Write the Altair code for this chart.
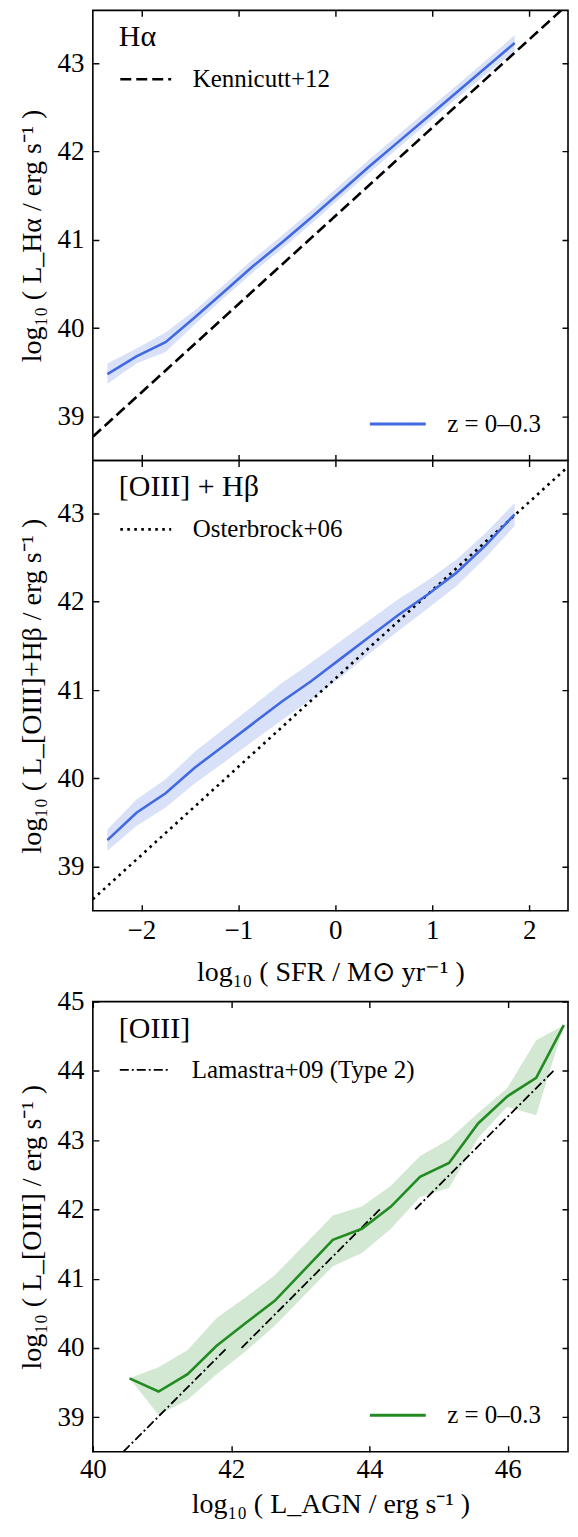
import altair as alt
import pandas as pd

FONT = "Liberation Serif"
BLUE = "#4169E1"
GREEN = "#228B22"
W, H = 476, 451
GAP = 91

# ---------------- data ----------------
# Panel 1: H-alpha vs SFR
sfr_x = [-2.35, -2.05, -1.75, -1.45, -1.15, -0.85, -0.55, -0.25, 0.05, 0.35, 0.65, 0.95, 1.25, 1.55, 1.85]
ha_y = [39.48, 39.68, 39.84, 40.12, 40.41, 40.70, 40.97, 41.25, 41.54, 41.83, 42.11, 42.39, 42.67, 42.95, 43.23]
ha_lo = [39.37, 39.60, 39.73, 40.04, 40.34, 40.63, 40.90, 41.18, 41.47, 41.76, 42.04, 42.32, 42.60, 42.87, 43.14]
ha_hi = [39.60, 39.77, 39.95, 40.20, 40.49, 40.78, 41.05, 41.33, 41.62, 41.91, 42.19, 42.47, 42.75, 43.03, 43.32]
ken_x = [-2.5, 2.33]
ken_y = [38.77, 43.60]

# Panel 2: [OIII]+H-beta vs SFR
oh_y = [39.30, 39.61, 39.83, 40.12, 40.37, 40.62, 40.87, 41.10, 41.35, 41.60, 41.85, 42.08, 42.33, 42.64, 42.99]
oh_lo = [39.18, 39.46, 39.67, 39.94, 40.18, 40.42, 40.66, 40.89, 41.14, 41.41, 41.67, 41.92, 42.18, 42.50, 42.86]
oh_hi = [39.42, 39.76, 39.99, 40.30, 40.56, 40.82, 41.08, 41.31, 41.55, 41.79, 42.03, 42.24, 42.48, 42.78, 43.12]
ost_x = [-2.5, 2.47]
ost_y = [38.63, 43.60]

# Panel 3: [OIII] vs L_AGN
agn_x = [40.53, 40.95, 41.37, 41.79, 42.21, 42.63, 43.05, 43.47, 43.89, 44.31, 44.73, 45.15, 45.57, 45.99, 46.41, 46.81]
agn_y = [39.56, 39.37, 39.62, 40.03, 40.36, 40.68, 41.12, 41.56, 41.72, 42.04, 42.47, 42.67, 43.24, 43.63, 43.90, 44.66]
agn_lo = [39.56, 39.03, 39.25, 39.62, 39.95, 40.32, 40.75, 41.18, 41.37, 41.72, 42.18, 42.31, 43.03, 43.48, 43.36, 44.66]
agn_hi = [39.56, 39.72, 39.97, 40.43, 40.73, 41.05, 41.48, 41.91, 42.04, 42.34, 42.77, 43.01, 43.39, 43.75, 44.44, 44.66]
lam_seg = ["a", "a", "b", "b", "c", "c"]
lam_x = [40.44, 41.94, 42.15, 44.15, 44.66, 46.66]
lam_y = [38.5, 40.0, 40.0, 42.0, 42.0, 44.0]

sfr_ticks = [-2, -1, 0, 1, 2]
lum_ticks = [39, 40, 41, 42, 43]
agn_ticks = [40, 42, 44, 46]
oiii_ticks = [39, 40, 41, 42, 43, 44, 45]

ZLABEL = "z = 0–0.3"


def panel(x, y, lo, hi, rx, ry, rseg, xdom, ydom, xticks, yticks, xtitle, ytitle,
          show_x, color, rname, rdash, rwidth, header, zleg, xlpad, xtpad):
    xs = alt.Scale(domain=xdom, nice=False, zero=False)
    ys = alt.Scale(domain=ydom, nice=False, zero=False)
    if show_x:
        xaxis = alt.Axis(values=xticks, title=xtitle, labelFlush=False, labelOverlap=False,
                         labelPadding=xlpad, titlePadding=xtpad)
    else:
        xaxis = alt.Axis(values=xticks, labels=False, title=None)
    yaxis = alt.Axis(values=yticks, title=ytitle, labelOverlap=False)
    X = alt.X("x:Q", scale=xs, axis=xaxis)

    df = pd.DataFrame({"x": x, "y": y, "lo": lo, "hi": hi, "z": [ZLABEL] * len(x)})
    rdf = pd.DataFrame({"x": rx, "y": ry, "seg": rseg, "ref": [rname] * len(rx)})

    band = alt.Chart(df).mark_area(color=color, opacity=0.2).encode(
        x=X, y=alt.Y("lo:Q", scale=ys, axis=yaxis), y2="hi:Q")

    ref = alt.Chart(rdf).mark_line(color="black", strokeWidth=rwidth, clip=True).encode(
        x=X, y=alt.Y("y:Q", scale=ys, axis=yaxis), detail="seg:N",
        strokeDash=alt.StrokeDash(
            "ref:N",
            scale=alt.Scale(domain=[rname], range=[rdash]),
            legend=alt.Legend(
                title=header, orient="none", legendX=26, legendY=12,
                titleFont=FONT, titleFontSize=30, titleFontWeight="normal", titleColor="black",
                titlePadding=0, labelFont=FONT, labelFontSize=25, labelColor="black",
                labelLimit=400,
                symbolType="stroke", symbolSize=2600, symbolStrokeWidth=rwidth,
                symbolStrokeColor="black", labelOffset=20, padding=0)))

    if zleg:
        line = alt.Chart(df).mark_line(strokeWidth=2.6).encode(
            x=X, y=alt.Y("y:Q", scale=ys, axis=yaxis),
            color=alt.Color("z:N", scale=alt.Scale(domain=[ZLABEL], range=[color]),
                            legend=alt.Legend(
                                title=None, orient="none", legendX=276, legendY=385,
                                labelFont=FONT, labelFontSize=25, labelColor="black",
                                labelLimit=400,
                                symbolType="stroke", symbolSize=3136, symbolStrokeWidth=3,
                                labelOffset=20, padding=0)))
    else:
        line = alt.Chart(df).mark_line(strokeWidth=2.6, color=color).encode(
            x=X, y=alt.Y("y:Q", scale=ys, axis=yaxis))

    return alt.layer(band, ref, line).properties(width=W, height=H)


# the reference's right spine sits just past the picture's edge: the visible
# x range is slightly narrower than the full axis range
top = panel(sfr_x, ha_y, ha_lo, ha_hi, ken_x, ken_y, ["k", "k"], [-2.5, 2.4], [38.5, 43.6],
            sfr_ticks, lum_ticks, None, "log₁₀ ( L_Hα / erg s⁻¹ )", False, BLUE,
            "Kennicutt+12", [11, 5], 2.6, "Hα", True, 7, 15)

mid = panel(sfr_x, oh_y, oh_lo, oh_hi, ost_x, ost_y, ["o", "o"], [-2.5, 2.4], [38.5, 43.6],
            sfr_ticks, lum_ticks, "log₁₀ ( SFR / M⊙ yr⁻¹ )", "log₁₀ ( L_[OIII]+Hβ / erg s⁻¹ )",
            True, BLUE, "Osterbrock+06", [2.6, 4.4], 2.6, "[OIII] + Hβ", False, 7, 15)

bot = panel(agn_x, agn_y, agn_lo, agn_hi, lam_x, lam_y, lam_seg, [40, 46.87], [38.5, 45],
            agn_ticks, oiii_ticks, "log₁₀ ( L_AGN / erg s⁻¹ )", "log₁₀ ( L_[OIII] / erg s⁻¹ )",
            True, GREEN, "Lamastra+09 (Type 2)", [9, 3, 2, 3], 1.8, "[OIII]", True, 5, 8)

# empty, invisible row that only holds the gap under the SFR axis
spacer = alt.Chart(pd.DataFrame({"v": [0]})).mark_point(opacity=0).encode(
    x=alt.X("v:Q", axis=None), y=alt.Y("v:Q", axis=None)
).properties(width=W, height=GAP, view=alt.ViewBackground(stroke="transparent"))

chart = alt.vconcat(top, mid, spacer, bot, spacing=0, bounds="flush").resolve_scale(
    x="independent", y="independent", color="independent", strokeDash="independent"
).resolve_legend(
    color="independent", strokeDash="independent"
).properties(
    padding={"left": 10, "top": 0, "right": 0, "bottom": 0}
).configure_axis(
    domain=False, ticks=False, grid=True, gridColor="black", gridOpacity=1, gridWidth=1.4,
    labelFont=FONT, labelFontSize=27, labelColor="black",
    titleFont=FONT, titleFontSize=28, titleFontWeight="normal", titleColor="black"
).configure_axisX(
    gridDash=[6, H - 12]
).configure_axisY(
    gridDash=[6, W - 12], labelPadding=9, titlePadding=10
).configure_view(
    stroke="black", strokeWidth=1.6
)

chart.save("out.html", embed_options={"renderer": "svg", "actions": False})
